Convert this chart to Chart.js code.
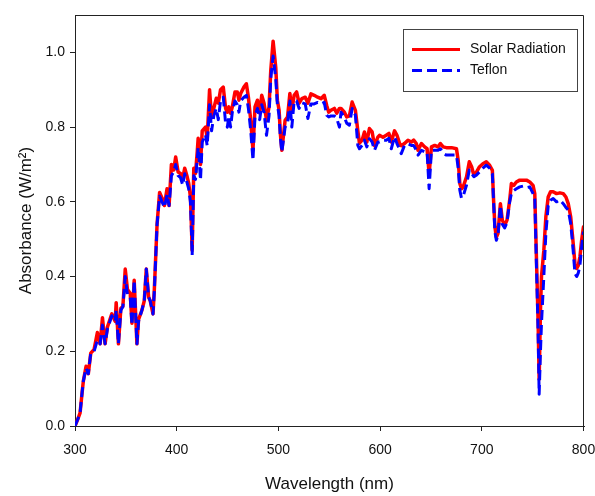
<!DOCTYPE html>
<html>
<head>
<meta charset="utf-8">
<script src="https://cdn.jsdelivr.net/npm/chart.js@4/dist/chart.umd.min.js"></script>
<style>
  html, body { margin: 0; padding: 0; background: #fff; }
  #wrap { width: 595px; height: 496px; position: relative; }
</style>
</head>
<body>
<div id="wrap"><canvas id="spectrum"></canvas></div>
<script>
// wavelength in nm
const wavelength = [
  300, 303, 305, 307, 308.2, 310.9, 313.1, 315.5, 318.8, 322, 324.7, 327, 329.6, 331.9, 336.2, 339.5,
  340.5, 342.7, 345.1, 347.1, 349.4, 351.6, 354.3, 356, 358.2, 360.9, 362.5, 365.8, 368.1, 370.1, 372.4,
  374, 376.7, 378, 380.7, 383.2, 385.6, 387.9, 390.5, 392.5, 394.8, 397, 399,
  401.4, 403.7, 405.9, 407.9, 410.3, 411.8, 413.5, 414.5, 415.2, 416.8, 418.5, 420.1, 421.1, 422.4, 423.4,
  425.1, 428.3, 430, 432.3, 434.3, 436.5, 438.9, 440.9, 443.1, 445.8, 448.1, 449.8, 451.3, 453, 454.7,
  457.3, 459.6, 461.2, 462.9, 466.1, 468.5, 470.5, 472.8, 475, 477, 479.4, 481.6, 483.6, 485.9, 488.3,
  490.8, 492.5, 494.8, 497.4, 499,
  500.7, 502, 503.4, 506.6, 509, 511.3, 513.2, 515.5, 517.9, 520.4, 523.1, 526.4, 529, 532, 535.2, 538.6,
  541.9, 545.1, 547.5, 549.5, 551.7, 555, 557.4, 560, 561.6, 564.9, 567.2, 569.8, 572.5, 575.7, 578.1,
  579.7, 582.3, 584.6, 587, 589.5, 592.2, 594.5, 597.8, 599.4,
  602.8, 606, 608.7, 611, 614.2, 616.6, 619.2, 620.8, 624, 627.4, 630.7, 633, 635.6, 637.3, 640.6, 643.8,
  646.2, 648.2, 650.5, 653.7, 657, 659.3, 662, 665.2, 670.2, 675.1, 676.8, 678.4, 680, 681.7, 685, 687.7,
  690, 692.2, 694.9, 697.8,
  701.1, 704.4, 707.7, 710.4, 711.6, 712.9, 714.3, 715.9, 718.3, 720.2, 722.5, 724.8, 727.4, 729.1, 731.4,
  734, 737.3, 740.6, 743.9, 747.2, 750.4, 752.1, 753.1, 754.4, 755.4, 756.4, 757.7, 758.7, 761, 763, 765.3,
  767.6, 770.2, 773.5, 776.8, 780.1, 782.7, 785, 787.4, 789.3, 791.6, 793.3, 794.9, 796.5, 798.2, 800
];

const solarRadiation = [
  0, 0.02, 0.035, 0.09, 0.12, 0.16, 0.14, 0.195, 0.205, 0.25, 0.22, 0.29, 0.22, 0.265, 0.30, 0.28,
  0.33, 0.22, 0.315, 0.32, 0.42, 0.365, 0.355, 0.275, 0.39, 0.22, 0.285, 0.31, 0.335, 0.42, 0.345,
  0.335, 0.30, 0.365, 0.54, 0.625, 0.61, 0.59, 0.635, 0.59, 0.70, 0.685, 0.72,
  0.68, 0.676, 0.663, 0.69, 0.667, 0.65, 0.613, 0.533, 0.47, 0.69, 0.676, 0.73, 0.77, 0.73, 0.70,
  0.79, 0.80, 0.77, 0.90, 0.825, 0.85, 0.877, 0.864, 0.90, 0.907, 0.85, 0.84, 0.854, 0.837, 0.854,
  0.894, 0.894, 0.872, 0.89, 0.907, 0.916, 0.88, 0.818, 0.738, 0.854, 0.872, 0.837, 0.885, 0.864, 0.818,
  0.854, 0.952, 1.03, 0.96, 0.872,
  0.845, 0.78, 0.738, 0.818, 0.827, 0.89, 0.845, 0.885, 0.894, 0.864, 0.876, 0.88, 0.864, 0.889, 0.885, 0.88,
  0.876, 0.885, 0.858, 0.84, 0.845, 0.85, 0.837, 0.85, 0.85, 0.84, 0.827, 0.83, 0.867, 0.845, 0.79,
  0.757, 0.765, 0.787, 0.76, 0.796, 0.787, 0.75, 0.773, 0.778,
  0.773, 0.778, 0.783, 0.76, 0.79, 0.778, 0.756, 0.75, 0.756, 0.765, 0.76, 0.765, 0.756, 0.738, 0.756, 0.747,
  0.742, 0.675, 0.747, 0.751, 0.747, 0.756, 0.747, 0.745, 0.745, 0.742, 0.711, 0.649, 0.635, 0.64, 0.667, 0.707,
  0.694, 0.671, 0.68, 0.694,
  0.702, 0.707, 0.698, 0.684, 0.604, 0.533, 0.505, 0.515, 0.595, 0.551, 0.537, 0.551, 0.604, 0.649, 0.644,
  0.653, 0.658, 0.658, 0.658, 0.653, 0.644, 0.622, 0.515, 0.382, 0.275, 0.125, 0.31, 0.40, 0.47, 0.56, 0.613,
  0.627, 0.627, 0.622, 0.624, 0.622, 0.613, 0.595, 0.56, 0.506, 0.435, 0.422, 0.43, 0.453, 0.497, 0.533
];

const teflon = [
  0, 0.02, 0.035, 0.09, 0.12, 0.155, 0.14, 0.195, 0.20, 0.23, 0.22, 0.27, 0.22, 0.26, 0.295, 0.28,
  0.31, 0.22, 0.31, 0.32, 0.40, 0.35, 0.345, 0.27, 0.39, 0.22, 0.28, 0.31, 0.335, 0.42, 0.345,
  0.335, 0.30, 0.36, 0.54, 0.615, 0.60, 0.585, 0.62, 0.59, 0.67, 0.68, 0.70,
  0.67, 0.665, 0.645, 0.675, 0.65, 0.635, 0.60, 0.52, 0.457, 0.67, 0.66, 0.71, 0.745, 0.70, 0.658,
  0.76, 0.78, 0.75, 0.86, 0.79, 0.83, 0.85, 0.82, 0.87, 0.88, 0.81, 0.80, 0.83, 0.80, 0.84,
  0.87, 0.86, 0.84, 0.87, 0.88, 0.885, 0.85, 0.79, 0.711, 0.83, 0.85, 0.82, 0.86, 0.84, 0.778,
  0.83, 0.93, 0.99, 0.93, 0.86,
  0.83, 0.77, 0.733, 0.80, 0.81, 0.87, 0.80, 0.87, 0.87, 0.85, 0.865, 0.862, 0.823, 0.862, 0.862, 0.866,
  0.862, 0.866, 0.832, 0.827, 0.83, 0.83, 0.823, 0.80, 0.84, 0.827, 0.81, 0.805, 0.85, 0.832, 0.751,
  0.742, 0.751, 0.765, 0.747, 0.769, 0.76, 0.738, 0.76, 0.76,
  0.765, 0.765, 0.77, 0.742, 0.774, 0.756, 0.74, 0.729, 0.751, 0.755, 0.751, 0.751, 0.738, 0.725, 0.738, 0.734,
  0.734, 0.635, 0.738, 0.738, 0.738, 0.742, 0.73, 0.725, 0.725, 0.725, 0.69, 0.631, 0.61, 0.615, 0.645, 0.685,
  0.676, 0.667, 0.672, 0.68,
  0.69, 0.698, 0.69, 0.675, 0.60, 0.52, 0.497, 0.51, 0.59, 0.54, 0.53, 0.545, 0.60, 0.622, 0.63,
  0.635, 0.64, 0.642, 0.638, 0.64, 0.622, 0.61, 0.50, 0.36, 0.25, 0.085, 0.20, 0.275, 0.40, 0.515, 0.59,
  0.604, 0.609, 0.60, 0.605, 0.595, 0.585, 0.578, 0.542, 0.488, 0.408, 0.40, 0.41, 0.43, 0.48, 0.52
];

const xTicks = [300, 400, 500, 600, 700, 800];
const yTicks = [0, 0.2, 0.4, 0.6, 0.8, 1.0];

const FONT = "'Liberation Sans', Arial, Helvetica, sans-serif";

// closes the box on the top and right sides
const frame = {
  id: 'frame',
  afterDatasetsDraw(chart) {
    const {ctx, chartArea: a} = chart;
    ctx.save();
    ctx.strokeStyle = '#222';
    ctx.lineWidth = 1;
    ctx.beginPath();
    ctx.moveTo(Math.round(a.left) + 0.5, Math.round(a.top) + 0.5);
    ctx.lineTo(Math.round(a.right) - 0.5, Math.round(a.top) + 0.5);
    ctx.lineTo(Math.round(a.right) - 0.5, Math.round(a.bottom));
    ctx.stroke();
    ctx.restore();
  }
};

// legend drawn inside the plot, top right
const boxLegend = {
  id: 'boxLegend',
  afterDraw(chart) {
    const {ctx} = chart;
    const x = 403, y = 29, w = 174, h = 62;
    ctx.save();
    ctx.fillStyle = '#fff';
    ctx.fillRect(x, y, w, h);
    ctx.strokeStyle = '#444';
    ctx.lineWidth = 1;
    ctx.strokeRect(x + 0.5, y + 0.5, w, h);
    chart.data.datasets.forEach((ds, i) => {
      const ly = 49.5 + i * 21;
      ctx.strokeStyle = ds.borderColor;
      ctx.lineWidth = 3;
      ctx.setLineDash(ds.borderDash || []);
      ctx.beginPath();
      ctx.moveTo(412, ly);
      ctx.lineTo(460, ly);
      ctx.stroke();
      ctx.setLineDash([]);
      ctx.fillStyle = '#111';
      ctx.font = '14px ' + FONT;
      ctx.textBaseline = 'middle';
      ctx.textAlign = 'left';
      ctx.fillText(ds.label, 470, ly);
    });
    ctx.restore();
  }
};

const ctx = document.getElementById('spectrum');

new Chart(ctx, {
  type: 'line',
  data: {
    datasets: [
      {
        label: 'Solar Radiation',
        data: wavelength.map((w, i) => ({x: w, y: solarRadiation[i]})),
        borderColor: '#ff0000',
        borderWidth: 3.5,
        borderJoinStyle: 'round',
        borderCapStyle: 'round',
        pointRadius: 0,
        tension: 0,
        order: 1,
      },
      {
        label: 'Teflon',
        data: wavelength.map((w, i) => ({x: w, y: teflon[i]})),
        borderColor: '#0000ff',
        borderWidth: 3,
        borderDash: [10, 5],
        borderJoinStyle: 'round',
        pointRadius: 0,
        tension: 0,
        order: 0,
      },
    ]
  },
  options: {
    responsive: true,
    maintainAspectRatio: false,
    animation: false,
    layout: {
      padding: {top: 15, right: 11, left: 0, bottom: 0}
    },
    plugins: {
      legend: {display: false},
      tooltip: {enabled: false},
    },
    scales: {
      x: {
        type: 'linear',
        min: 300,
        max: 800.5,
        afterFit: (scale) => {
          scale.height = 70;
          scale.paddingLeft = 0;
          scale.paddingRight = 0;
        },
        afterBuildTicks: (scale) => { scale.ticks = xTicks.map(v => ({value: v})); },
        grid: {drawOnChartArea: false, drawTicks: true, tickLength: 5, color: '#222'},
        border: {color: '#222', width: 1},
        ticks: {
          color: '#111',
          padding: 11,
          maxRotation: 0,
          font: {family: FONT, size: 14},
          callback: (v) => String(v),
        },
        title: {
          display: true,
          text: 'Wavelength (nm)',
          color: '#111',
          font: {family: FONT, size: 17},
          padding: {top: 0, bottom: 1},
        },
      },
      y: {
        min: 0,
        max: 1.1,
        afterFit: (scale) => {
          scale.width = 75;
          scale.paddingTop = 0;
          scale.paddingBottom = 0;
        },
        afterBuildTicks: (scale) => { scale.ticks = yTicks.map(v => ({value: v})); },
        grid: {drawOnChartArea: false, drawTicks: true, tickLength: 5, color: '#222'},
        border: {color: '#222', width: 1},
        ticks: {
          color: '#111',
          padding: 5,
          font: {family: FONT, size: 14},
          callback: (v) => v.toFixed(1),
        },
        title: {
          display: true,
          text: 'Absorbance (W/m²)',
          color: '#111',
          font: {family: FONT, size: 17},
          padding: {top: 16, bottom: 0},
        },
      },
    },
  },
  plugins: [frame, boxLegend],
});
</script>
</body>
</html>
